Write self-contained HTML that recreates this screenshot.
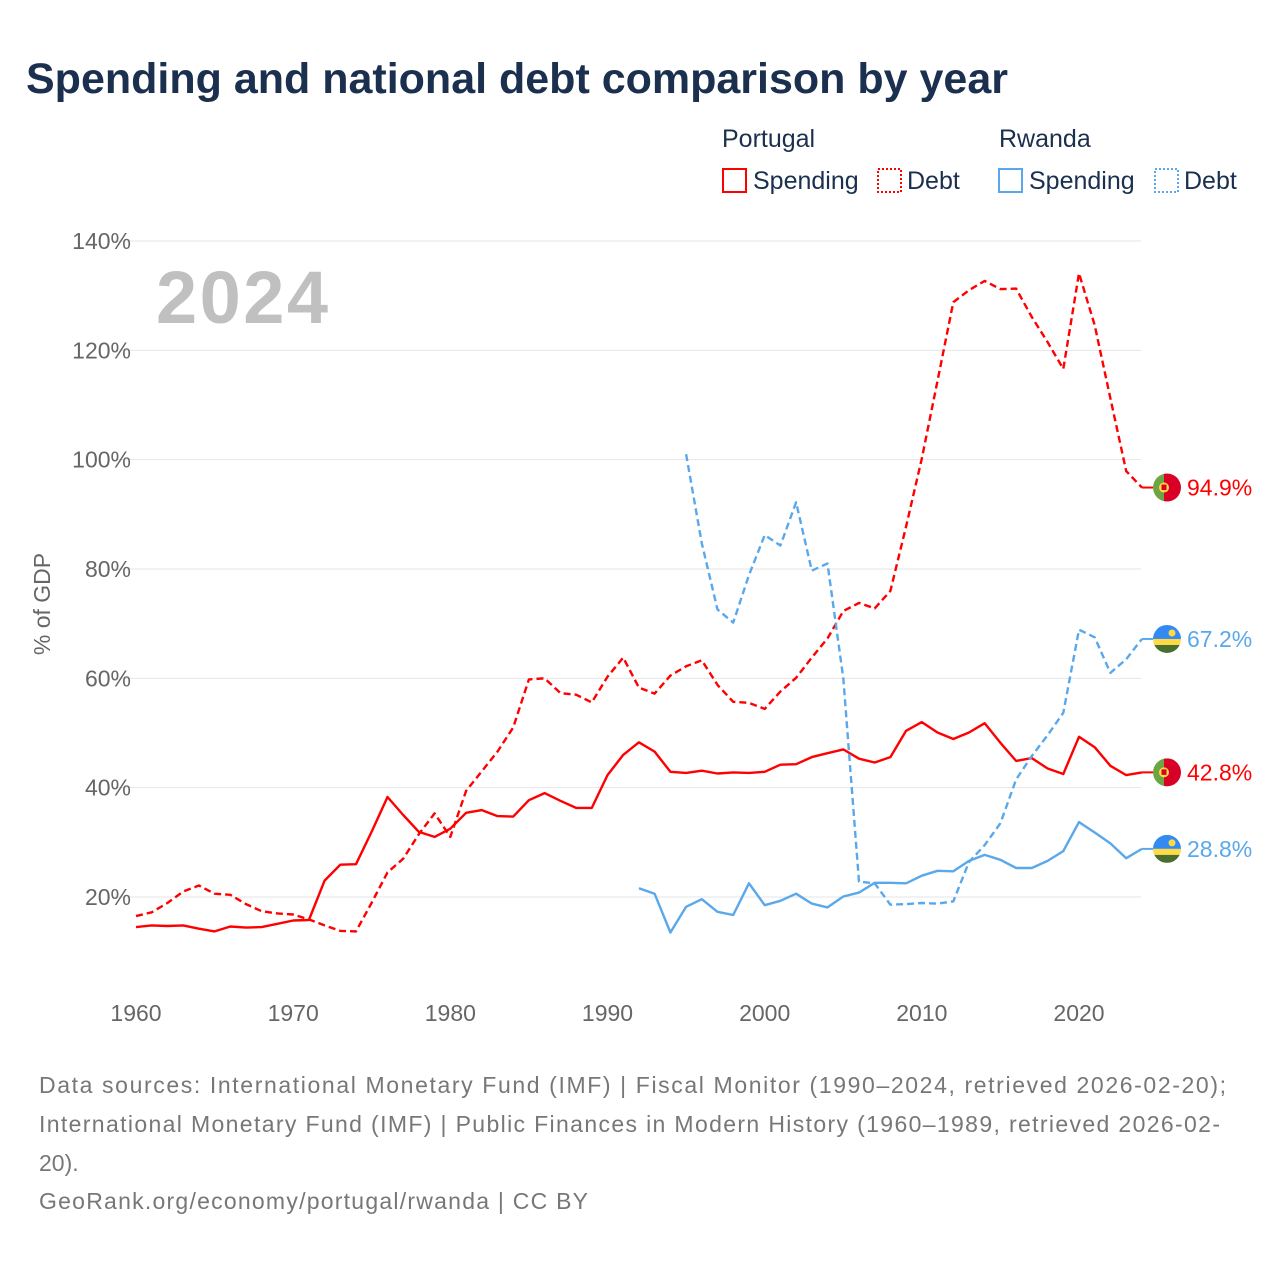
<!DOCTYPE html>
<html><head><meta charset="utf-8">
<style>
body{margin:0;width:1280px;height:1280px;background:#fff;font-family:"Liberation Sans",sans-serif;overflow:hidden}
svg text{font-family:"Liberation Sans",sans-serif}
</style></head>
<body>
<svg id="chart" width="1280" height="1280" xmlns="http://www.w3.org/2000/svg">
<text x="26" y="93" font-size="43" font-weight="bold" fill="#1b2f4e">Spending and national debt comparison by year</text>
<g font-size="25" fill="#1b2f4e">
<text x="722" y="147">Portugal</text>
<text x="999" y="147">Rwanda</text>
<g><rect x="723" y="169" width="23" height="23" fill="none" stroke="#f00" stroke-width="2"/><text x="753" y="189">Spending</text></g>
<g><rect x="878" y="169" width="23" height="23" fill="none" stroke="#f00" stroke-width="2" stroke-dasharray="2,2"/><text x="907" y="189">Debt</text></g>
<g><rect x="999" y="169" width="23" height="23" fill="none" stroke="#5aa8ec" stroke-width="2"/><text x="1029" y="189">Spending</text></g>
<g><rect x="1155" y="169" width="23" height="23" fill="none" stroke="#5aa8ec" stroke-width="2" stroke-dasharray="2,2"/><text x="1184" y="189">Debt</text></g>
</g>
<g id="grid"></g>
<text x="156" y="323" font-size="74" font-weight="bold" fill="#c0c0c0" textLength="172">2024</text>
<text transform="translate(50,604) rotate(-90)" text-anchor="middle" font-size="23" fill="#666">% of GDP</text>
<g id="series"></g>
<g font-size="23" fill="#777">
<text x="39" y="1093" textLength="1187" lengthAdjust="spacing">Data sources: International Monetary Fund (IMF) | Fiscal Monitor (1990–2024, retrieved 2026-02-20);</text>
<text x="39" y="1132" textLength="1181" lengthAdjust="spacing">International Monetary Fund (IMF) | Public Finances in Modern History (1960–1989, retrieved 2026-02-</text>
<text x="39" y="1171">20).</text>
<text x="39" y="1209" textLength="549" lengthAdjust="spacing">GeoRank.org/economy/portugal/rwanda | CC BY</text>
</g>
</svg>
<script>
const yTicks=[20,40,60,80,100,120,140];
const xTicks=[1960,1970,1980,1990,2000,2010,2020];
const ptSpendStart=1960;
const ptSpending=[14.5,14.8,14.7,14.8,14.2,13.7,14.6,14.4,14.5,15.1,15.7,15.8,23,25.9,26,32,38.3,35,31.9,31,32.5,35.4,35.9,34.8,34.7,37.7,39,37.6,36.3,36.3,42.3,46,48.3,46.6,42.9,42.7,43.1,42.6,42.8,42.7,42.9,44.2,44.3,45.6,46.3,47,45.3,44.6,45.6,50.4,52,50.1,48.9,50.1,51.8,48.2,44.9,45.4,43.5,42.5,49.3,47.4,44,42.3,42.8];
const ptDebtStart=1960;
const ptDebt=[16.5,17.2,18.9,21,22.1,20.6,20.4,18.7,17.4,17,16.8,15.9,14.8,13.8,13.7,19,24.5,27,31.5,35.3,31,39.4,43,46.6,51,59.8,60,57.3,57,55.6,60.3,63.8,58.3,57.2,60.5,62.2,63.3,58.8,55.7,55.5,54.4,57.6,60.1,63.8,67.3,72.3,73.8,72.8,76,87.8,100.2,114.4,128.8,131,132.7,131.2,131.3,126.1,121.5,116.6,134.1,124.6,111.2,97.9,94.9];
const rwSpendStart=1992;
const rwSpending=[21.6,20.6,13.5,18.2,19.6,17.3,16.7,22.5,18.5,19.3,20.6,18.8,18.1,20.1,20.8,22.6,22.6,22.5,23.9,24.8,24.7,26.6,27.7,26.8,25.3,25.3,26.6,28.4,33.7,31.8,29.8,27.1,28.8];
const rwDebtStart=1995;
const rwDebt=[101,84.7,72.6,70.2,78.9,86.2,84.3,92.2,79.7,81,60,22.8,22.5,18.6,18.7,18.9,18.8,19.2,26.4,29.5,33.5,41.5,45.8,49.6,53.7,68.9,67.5,61,63.5,67.2];

const NS='http://www.w3.org/2000/svg';
const xS=y=>136+(y-1960)*(943/60);
const yS=v=>897-(v-20)*(656/120);
const grid=document.getElementById('grid');
function mk(tag,attrs,parent){const e=document.createElementNS(NS,tag);for(const k in attrs)e.setAttribute(k,attrs[k]);parent.appendChild(e);return e;}
yTicks.forEach(t=>{
  const l=mk('line',{x1:112,x2:1141,y1:yS(t),y2:yS(t),stroke:'#e6e6e6','stroke-width':1},grid);
  
  
  const tx=mk('text',{x:131,y:yS(t)+8,'text-anchor':'end','font-size':23,fill:'#666'},grid);
  tx.textContent=t+'%';
  
  
});
xTicks.forEach(t=>{
  const tx=mk('text',{x:xS(t),y:1021,'text-anchor':'middle','font-size':23,fill:'#666'},grid);
  tx.textContent=t;
  
  
});
const ser=document.getElementById('series');
function line(vals,start,color,dash,name){
  const d=vals.map((v,i)=>(i?'L':'M')+xS(start+i).toFixed(1)+','+yS(v).toFixed(1)).join('');
  const p=mk('path',{d:d,fill:'none',stroke:color,'stroke-width':2.4,'stroke-linejoin':'round'},ser);
  if(dash)p.setAttribute('stroke-dasharray','7,4');
  
  
}
line(ptSpending,ptSpendStart,'#ff0000',false,'line-portugal-spending');
line(ptDebt,ptDebtStart,'#ff0000',true,'line-portugal-debt');
line(rwSpending,rwSpendStart,'#5aa8ec',false,'line-rwanda-spending');
line(rwDebt,rwDebtStart,'#5aa8ec',true,'line-rwanda-debt');
function endLabel(v,color,country,name){
  const y=yS(v),cx=1167;
  const g=mk('g',{},ser);
  
  
  mk('line',{x1:xS(2024),x2:cx-14,y1:y,y2:y,stroke:color,'stroke-width':2},g);
  const id='c'+Math.round(y);
  const cp=mk('clipPath',{id:id},g);mk('circle',{cx:cx,cy:y,r:14},cp);
  const f=mk('g',{'clip-path':'url(#'+id+')'},g);
  if(country==='pt'){
    mk('rect',{x:cx-14,y:y-14,width:11,height:28,fill:'#6da544'},f);
    mk('rect',{x:cx-3,y:y-14,width:17,height:28,fill:'#d80027'},f);
    mk('circle',{cx:cx-3,cy:y,r:5,fill:'#ffda44'},f);
    mk('rect',{x:cx-5.5,y:y-3,width:5,height:5.5,fill:'#d80027'},f);
  }else{
    mk('rect',{x:cx-14,y:y-14,width:28,height:14,fill:'#338af3'},f);
    mk('rect',{x:cx-14,y:y,width:28,height:6,fill:'#ffda44'},f);
    mk('rect',{x:cx-14,y:y+6,width:28,height:8,fill:'#496e2d'},f);
    mk('circle',{cx:cx+5,cy:y-6,r:3.5,fill:'#ffda44'},f);
  }
  const t=mk('text',{x:1187,y:y+8,'font-size':23,fill:color},g);
  t.textContent=v.toFixed(1)+'%';
}
endLabel(ptDebt[ptDebt.length-1],'#ff0000','pt','end-label-portugal-debt');
endLabel(rwDebt[rwDebt.length-1],'#5aa8ec','rw','end-label-rwanda-debt');
endLabel(ptSpending[ptSpending.length-1],'#ff0000','pt','end-label-portugal-spending');
endLabel(rwSpending[rwSpending.length-1],'#5aa8ec','rw','end-label-rwanda-spending');
</script>
</body></html>
